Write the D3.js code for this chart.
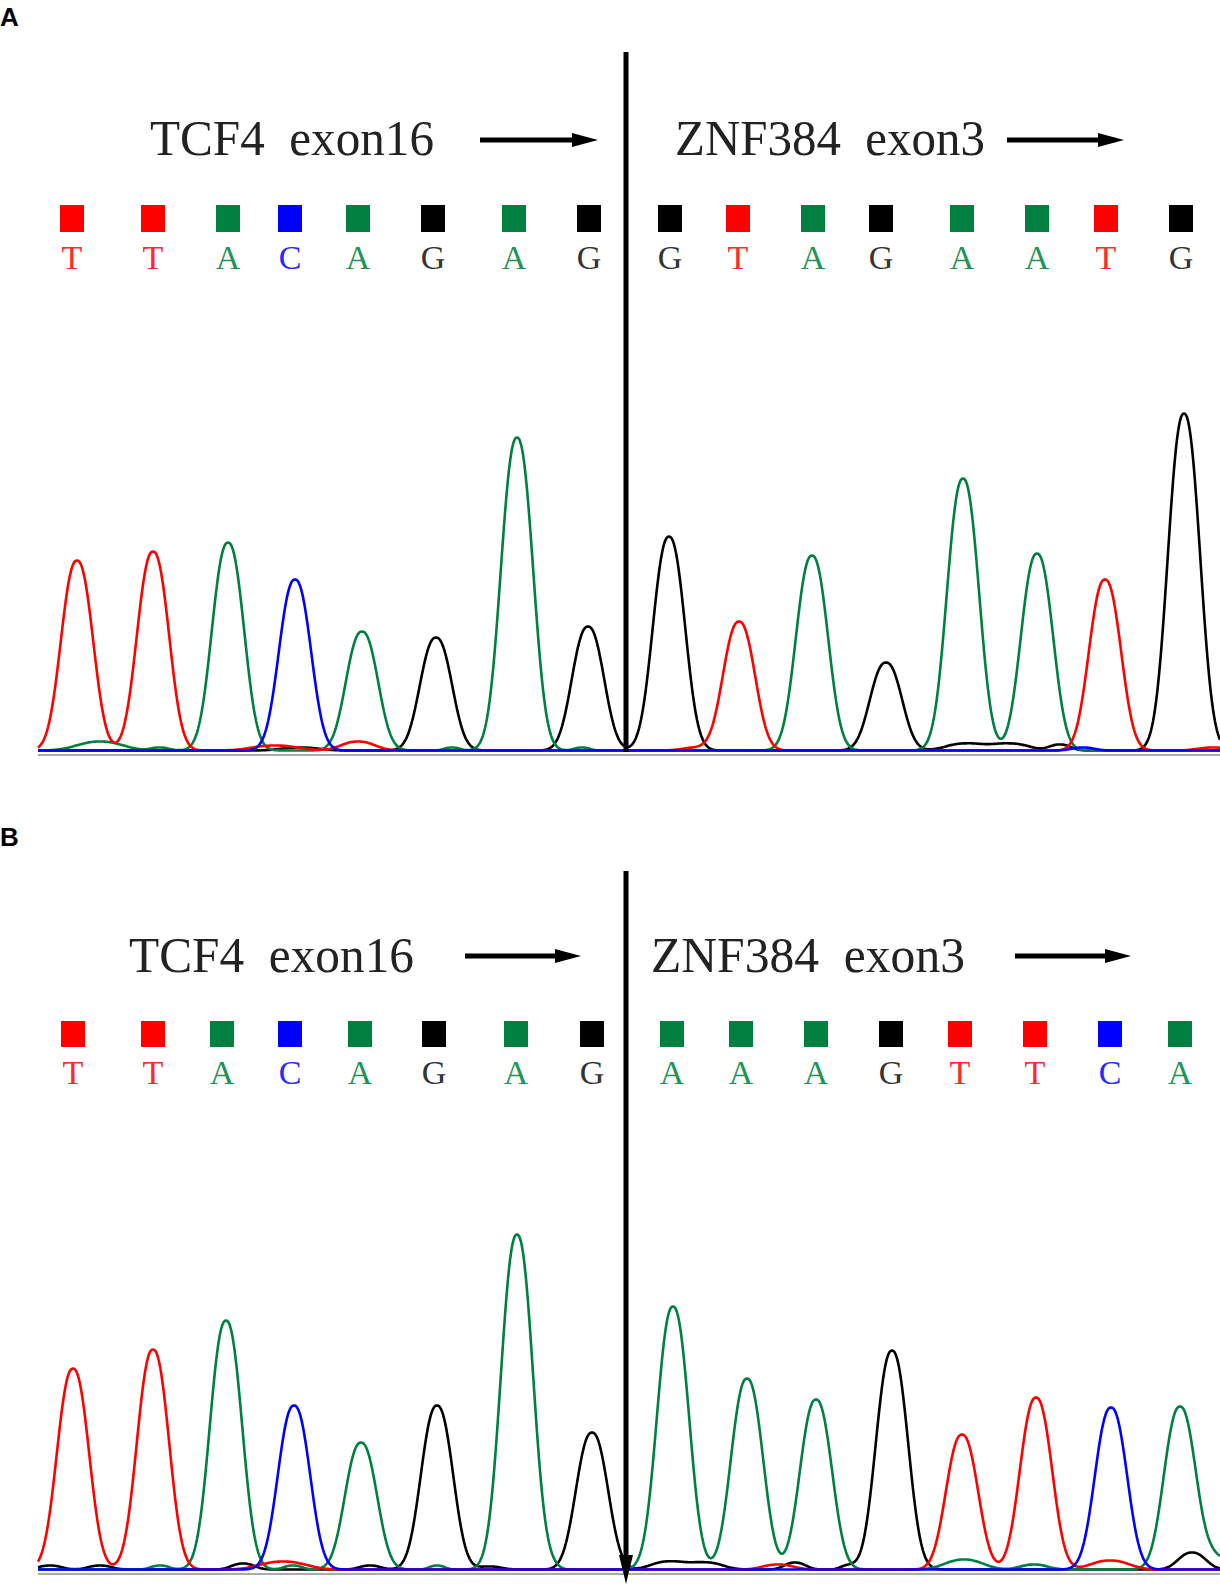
<!DOCTYPE html>
<html lang="en">
<head>
<meta charset="UTF-8">
<title>TCF4-ZNF384 fusion chromatogram</title>
<script src="https://d3js.org/d3.v7.min.js"></script>
<style>
  * { margin: 0; padding: 0; box-sizing: border-box; }
  body { background: #fff; }
  svg { display: block; }
</style>
</head>
<body>
<div id="chart"></div>
<script>
// x in scan units, heights in signal units
const basesA = ["T","T","A","C","A","G","A","G","G","T","A","G","A","A","T","G"];
const callPosA = [34, 115, 190, 252, 320, 395, 476, 551, 632, 700, 775, 843, 924, 999, 1068, 1143];
const peakPosA = [39, 115, 190, 257, 324, 398, 479, 550, 631, 701, 774, 848, 925, 999, 1067, 1146];
const peakHtA  = [190, 199, 208, 171, 119, 113, 313, 124, 214, 129, 195, 88, 272, 197, 171, 337];
// small background bumps: [base, scan, height, width]
const noiseA = [
  ["A", 62, 9, 30], ["A", 122, 3, 12], ["T", 237, 5, 30], ["G", 262, 3, 25],
  ["T", 320, 9, 22], ["A", 414, 3, 10], ["A", 544, 3, 10], ["T", 660, 3, 20],
  ["G", 927, 7, 25], ["G", 972, 7, 25], ["G", 1022, 6, 14], ["C", 1045, 3, 15],
  ["T", 1175, 3, 20]
];

const basesB = ["T","T","A","C","A","G","A","G","A","A","A","G","T","T","C","A"];
const callPosB = [35, 115, 184, 252, 322, 396, 478, 554, 634, 703, 778, 853, 922, 997, 1072, 1142];
const peakPosB = [35, 115, 188, 256, 323, 399, 479, 554, 635, 709, 778, 854, 924, 998, 1073, 1142];
const peakHtB  = [201, 220, 249, 164, 127, 164, 335, 137, 263, 191, 170, 219, 135, 172, 162, 163];
const noiseB = [
  ["G", 12, 4, 15], ["G", 62, 4, 15], ["A", 122, 4, 12], ["G", 205, 6, 15],
  ["T", 245, 8, 30], ["A", 255, 4, 12], ["G", 332, 4, 14], ["A", 399, 4, 10],
  ["G", 452, 3, 15], ["A", 512, 3, 10], ["G", 630, 8, 22], ["G", 668, 7, 22],
  ["T", 740, 5, 20], ["G", 757, 7, 14], ["G", 810, 4, 10], ["A", 926, 10, 25],
  ["A", 996, 5, 18], ["T", 1072, 9, 25], ["G", 1154, 17, 18], ["A", 1178, 12, 15]
];

const junctionScan = 588;
const titles = ["TCF4  exon16", "ZNF384  exon3"];

const traceColor = {A: "#008040", C: "#0000ff", G: "#000000", T: "#ff0000"};
const boxColor   = {A: "#00803e", C: "#0000ff", G: "#000000", T: "#ff0000"};
const textColor  = {A: "#1e9456", C: "#2a2aff", G: "#333333", T: "#ff2a2a"};

const width = 1220, height = 1584;
const svg = d3.select("#chart").append("svg")
    .attr("width", width)
    .attr("height", height);

const x = d3.scaleLinear().domain([0, 1182]).range([38, 1220]);

const panels = [
  {label: "A", labelY: 26, lineTop: 52, baseline: 752, titleY: 155, arrowY: 140,
   titleX: [150, 675], titleW: [284, 310], arrows: [[480, 598], [1007, 1124]],
   boxY: 205, boxH: 27, letterY: 269, endArrow: false,
   bases: basesA, calls: callPosA, peaks: peakPosA, heights: peakHtA, noise: noiseA},
  {label: "B", labelY: 846, lineTop: 871, baseline: 1571, titleY: 972, arrowY: 956,
   titleX: [129, 651], titleW: [285, 314], arrows: [[465, 581], [1015, 1131]],
   boxY: 1021, boxH: 26, letterY: 1084, endArrow: true,
   bases: basesB, calls: callPosB, peaks: peakPosB, heights: peakHtB, noise: noiseB}
];

function shape(d, w) {
    return Math.exp(-Math.pow(Math.abs(d) / w, 2.3));
}

panels.forEach(p => drawPanel(p));

function drawPanel(p) {
    const g = svg.append("g");
    const y = d3.scaleLinear().domain([0, 700]).range([p.baseline, p.baseline - 700]);

    g.append("text")
        .attr("x", 0).attr("y", p.labelY)
        .attr("font-family", "'Liberation Sans', Arial, sans-serif")
        .attr("font-weight", "bold").attr("font-size", 26)
        .text(p.label);

    // gene titles + arrows
    titles.forEach((t, i) => {
        g.append("text")
            .attr("x", p.titleX[i]).attr("y", p.titleY)
            .attr("font-family", "'Liberation Serif', 'Times New Roman', serif")
            .attr("font-size", 50)
            .attr("fill", "#222")
            .attr("textLength", p.titleW[i])
            .attr("lengthAdjust", "spacingAndGlyphs")
            .style("white-space", "pre")
            .text(t);
        const [x1, x2] = p.arrows[i];
        g.append("line")
            .attr("x1", x1).attr("x2", x2 - 22)
            .attr("y1", p.arrowY).attr("y2", p.arrowY)
            .attr("stroke", "#000").attr("stroke-width", 5);
        g.append("path")
            .attr("d", `M${x2 - 26},${p.arrowY - 7}L${x2},${p.arrowY}L${x2 - 26},${p.arrowY + 7}Z`)
            .attr("fill", "#000");
    });

    // base call boxes and letters
    const calls = p.bases.map((b, i) => ({base: b, pos: p.calls[i]}));
    g.selectAll("rect.call")
        .data(calls)
        .enter()
        .append("rect")
        .attr("class", "call")
        .attr("x", d => x(d.pos) - 12)
        .attr("y", p.boxY)
        .attr("width", 24)
        .attr("height", p.boxH)
        .attr("fill", d => boxColor[d.base]);

    g.selectAll("text.call")
        .data(calls)
        .enter()
        .append("text")
        .attr("class", "call")
        .attr("x", d => x(d.pos))
        .attr("y", p.letterY)
        .attr("text-anchor", "middle")
        .attr("font-family", "'Liberation Serif', 'Times New Roman', serif")
        .attr("font-size", 34)
        .attr("fill", d => textColor[d.base])
        .text(d => d.base);

    // grey axis line under the traces
    g.append("line")
        .attr("x1", x(0)).attr("x2", x(1182))
        .attr("y1", p.baseline + 3).attr("y2", p.baseline + 3)
        .attr("stroke", "#aaa").attr("stroke-width", 2);

    // traces, one per dye
    const scans = d3.range(0, 1183, 1);
    const line = d3.line()
        .x(d => x(d[0]))
        .y(d => y(d[1]));

    ["G", "A", "T", "C"].forEach(base => {
        const pk = [];
        p.bases.forEach((b, i) => {
            if (b === base) pk.push([p.peaks[i], p.heights[i], 21]);
        });
        p.noise.forEach(n => {
            if (n[0] === base) pk.push([n[1], n[2], n[3]]);
        });
        const pts = scans.map(s => {
            let v = 1.5;
            pk.forEach(q => { v += q[1] * shape(s - q[0], q[2]); });
            return [s, v];
        });
        g.append("path")
            .datum(pts)
            .attr("d", line)
            .attr("fill", "none")
            .attr("stroke", traceColor[base])
            .attr("stroke-width", 2.6)
            .attr("stroke-linejoin", "round");
    });

    // fusion junction line
    const jx = x(junctionScan);
    g.append("line")
        .attr("x1", jx).attr("x2", jx)
        .attr("y1", p.lineTop)
        .attr("y2", p.endArrow ? p.baseline - 14 : p.baseline)
        .attr("stroke", "#000").attr("stroke-width", 5);
    if (p.endArrow) {
        g.append("path")
            .attr("d", `M${jx - 7},${p.baseline - 16}L${jx + 7},${p.baseline - 16}L${jx},${height}Z`)
            .attr("fill", "#000");
    }
}
</script>
</body>
</html>
